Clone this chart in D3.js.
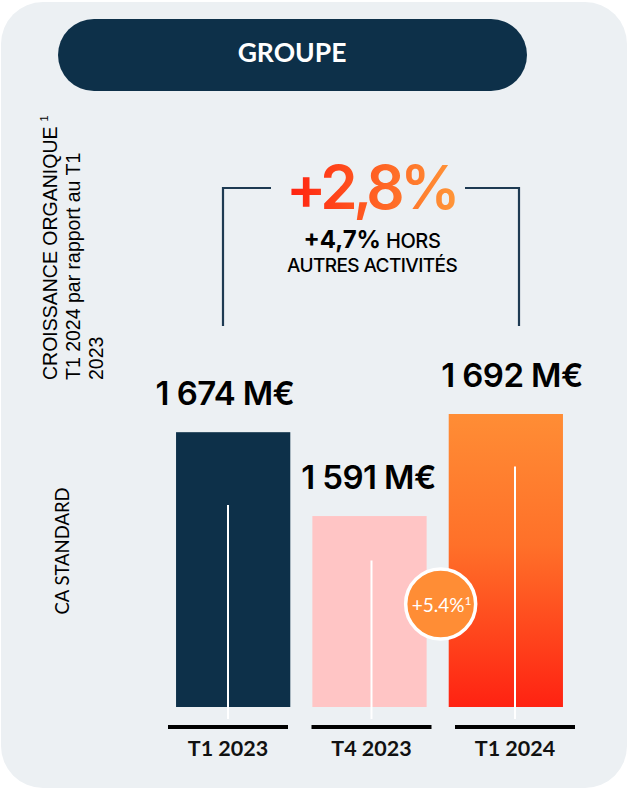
<!DOCTYPE html>
<html><head><meta charset="utf-8">
<script src="https://cdn.jsdelivr.net/npm/d3@7"></script>
<style>
html,body{margin:0;padding:0;background:#fff;}
svg{display:block;}
</style></head>
<body>
<script>
const categories = ["T1 2023", "T4 2023", "T1 2024"];
const values = [1674, 1591, 1692];
const valueLabels = ["1 674 M€", "1 591 M€", "1 692 M€"];
const innerMarkValues = [1602, 1547, 1640];
const headerTitle = "GROUPE";
const growthMain = "+2,8%";
const growthSubBold = "+4,7%";
const growthSubRest = " HORS";
const growthSubLine2 = "AUTRES ACTIVITÉS";
const bubbleText = "+5.4%";
const yTitleLines = ["CROISSANCE ORGANIQUE", "T1 2024 par rapport au T1", "2023"];
const yTitle2 = "CA STANDARD";

const W = 628, H = 789;
const svg = d3.select("body").append("svg").attr("width", W).attr("height", H);
const defs = svg.append("defs");

const g1 = defs.append("linearGradient").attr("id","barGrad").attr("x1",0).attr("y1",0).attr("x2",0).attr("y2",1);
g1.append("stop").attr("offset","0%").attr("stop-color","#FF8D35");
g1.append("stop").attr("offset","45%").attr("stop-color","#FF7029");
g1.append("stop").attr("offset","100%").attr("stop-color","#FF2212");
const g2 = defs.append("linearGradient").attr("id","txtGrad").attr("x1",0).attr("y1",0).attr("x2",1).attr("y2",0);
g2.append("stop").attr("offset","0%").attr("stop-color","#FF2010");
g2.append("stop").attr("offset","50%").attr("stop-color","#FF5E22");
g2.append("stop").attr("offset","100%").attr("stop-color","#FF9638");

// card
svg.append("rect").attr("x",1).attr("y",2).attr("width",626).attr("height",786).attr("rx",42).attr("ry",42).attr("fill","#ECF0F3");

// header pill
svg.append("rect").attr("x",58).attr("y",19).attr("width",469).attr("height",72).attr("rx",36).attr("fill","#0D3049");
svg.append("text").attr("x",292).attr("y",62).attr("text-anchor","middle")
  .attr("font-family","Lato, sans-serif").attr("font-weight",700).attr("font-size",26.5)
  .attr("fill","#fff").text(headerTitle);

// scales
const x = d3.scaleBand().domain(categories).range([165, 574]).paddingInner(0.162).paddingOuter(0.081);
const xt = d3.scalePoint().domain(categories).range([228, 515]);
const y = d3.scaleLinear().domain([1402, 1692]).range([707, 414]);

const fills = ["#0D3049", "#FFC5C5", "url(#barGrad)"];

// bars
svg.selectAll("rect.bar").data(categories).join("rect").attr("class","bar")
  .attr("x", d => x(d)).attr("width", x.bandwidth())
  .attr("y", (d,i) => y(values[i])).attr("height", (d,i) => y.range()[0] - y(values[i]))
  .attr("fill", (d,i) => fills[i]);

// inner white lines
svg.selectAll("line.inner").data(categories).join("line").attr("class","inner")
  .attr("x1", d => xt(d)).attr("x2", d => xt(d))
  .attr("y1", (d,i) => y(innerMarkValues[i])).attr("y2", 719)
  .attr("stroke","#fff").attr("stroke-width",2);

// axis underlines
svg.selectAll("line.base").data(categories).join("line").attr("class","base")
  .attr("x1", d => xt(d) - 60).attr("x2", d => xt(d) + 60)
  .attr("y1", 727).attr("y2", 727).attr("stroke","#000").attr("stroke-width",4);

svg.selectAll("text.cat").data(categories).join("text").attr("class","cat")
  .attr("x", d => xt(d)).attr("y", 756).attr("text-anchor","middle")
  .attr("font-family","Lato, sans-serif").attr("font-weight",700).attr("font-size",21.5)
  .attr("fill","#111").text(d => d);

// value labels
svg.selectAll("text.val").data(categories).join("text").attr("class","val")
  .attr("x", d => xt(d) - 3).attr("y", (d,i) => y(values[i]) - 27)
  .attr("text-anchor","middle").attr("xml:space","preserve").style("white-space","pre")
  .attr("font-family","Inter, sans-serif").attr("font-weight",600).attr("font-size",33)
  .attr("letter-spacing",-0.6)
  .attr("fill","#000").text((d,i) => valueLabels[i]);

// bracket
const bx1 = 223, bx2 = 519, bTop = 188, bBot = 326;
svg.append("path").attr("d", `M${bx1},${bBot}V${bTop}H271`).attr("fill","none").attr("stroke","#1E3A52").attr("stroke-width",2.2);
svg.append("path").attr("d", `M465,${bTop}H${bx2}V${bBot}`).attr("fill","none").attr("stroke","#1E3A52").attr("stroke-width",2.2);

svg.append("text").attr("x",371).attr("y",209).attr("text-anchor","middle")
  .attr("font-family","Inter, sans-serif").attr("font-weight",600).attr("font-size",60)
  .attr("letter-spacing",-4.5)
  .attr("fill","url(#txtGrad)").text(growthMain);

const sub = svg.append("text").attr("x",372).attr("y",248).attr("text-anchor","middle")
  .attr("font-family","Inter, sans-serif").attr("fill","#000");
sub.append("tspan").attr("font-weight",700).attr("font-size",24).attr("letter-spacing",0).text(growthSubBold);
sub.append("tspan").attr("font-weight",500).attr("font-size",20).attr("letter-spacing",-0.4).text(growthSubRest);
svg.append("text").attr("x",372).attr("y",272).attr("text-anchor","middle")
  .attr("font-family","Inter, sans-serif").attr("font-weight",500).attr("font-size",19)
  .attr("letter-spacing",-0.6).attr("fill","#000").text(growthSubLine2);

// bubble
const bcx = (x(categories[1]) + x.bandwidth() + x(categories[2])) / 2 + 3;
svg.append("circle").attr("cx", bcx).attr("cy", 604).attr("r", 35).attr("fill","#FF8D35").attr("stroke","#fff").attr("stroke-width",3.5);
const bt = svg.append("text").attr("x", bcx + 1).attr("y", 612).attr("text-anchor","middle")
  .attr("font-family","Lato, sans-serif").attr("font-weight",400).attr("font-size",19).attr("fill","#fff");
bt.append("tspan").text(bubbleText);
bt.append("tspan").attr("font-size",12).attr("dy",-7).text("1");

// y titles
const yt = svg.append("g").attr("transform","translate(0,380) rotate(-90)");
const ytTexts = yt.selectAll("text").data(yTitleLines).join("text")
  .attr("x", 0).attr("y", (d,i) => 57 + i*23)
  .attr("font-family","'Liberation Sans', Arial, sans-serif").attr("font-size",19.5)
  .attr("fill","#000").text(d => d);
ytTexts.filter((d,i) => i === 0).append("tspan").attr("font-size",11).attr("dx",5).attr("dy",-9).text("1");

svg.append("text").attr("transform","translate(69,551) rotate(-90)").attr("text-anchor","middle")
  .attr("font-family","Lato, sans-serif").attr("font-weight",400).attr("font-size",18.5)
  .attr("fill","#000").text(yTitle2);
</script>
</body></html>
